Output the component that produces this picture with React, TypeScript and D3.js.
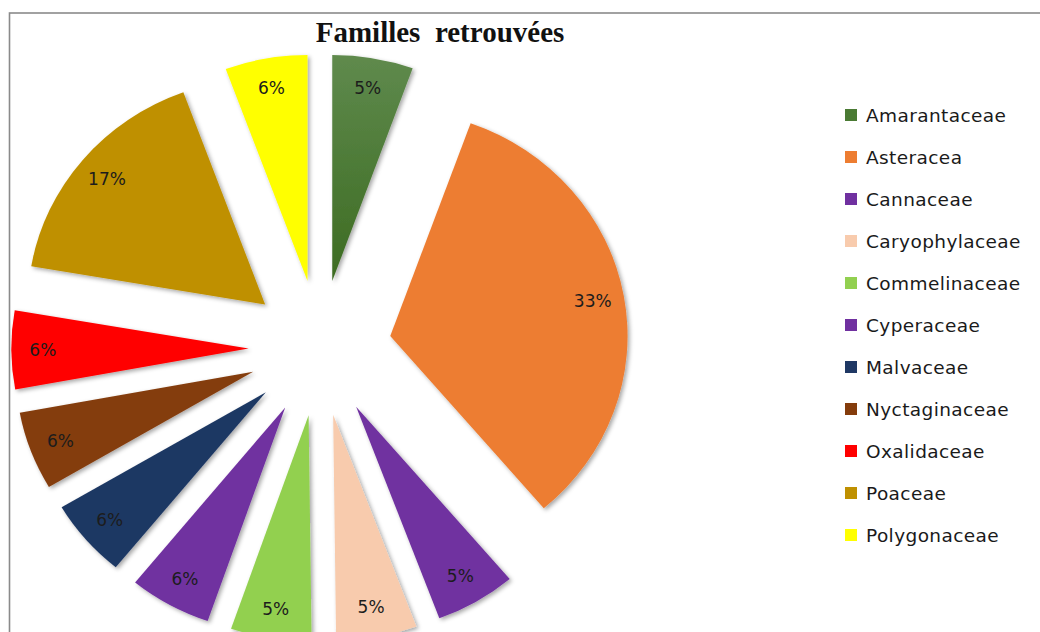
import React from "react";
import * as d3 from "d3";

const families = [
  "Amarantaceae",
  "Asteracea",
  "Cannaceae",
  "Caryophylaceae",
  "Commelinaceae",
  "Cyperaceae",
  "Malvaceae",
  "Nyctaginaceae",
  "Oxalidaceae",
  "Poaceae",
  "Polygonaceae",
];
const shares = [5.5, 33.3, 5.5, 5.5, 5.5, 5.6, 5.6, 5.6, 5.6, 16.7, 5.6];
const labels = ["5%", "33%", "5%", "5%", "5%", "6%", "6%", "6%", "6%", "17%", "6%"];
const colors = [
  "url(#gradAmar)",
  "#ed7d31",
  "#7030a0",
  "#f8cbad",
  "#92d050",
  "#7030a0",
  "#1f3864",
  "#843c0c",
  "#ff0000",
  "#bf9000",
  "#ffff00",
];
const legendColors = [
  "#4a7a33",
  "#ed7d31",
  "#7030a0",
  "#f8cbad",
  "#92d050",
  "#7030a0",
  "#1f3864",
  "#843c0c",
  "#ff0000",
  "#bf9000",
  "#ffff00",
];

const W = 1040;
const H = 632;
const cx = 320;
const cy = 348;
const R = 226;
const explode = 68;
const sx = 1.05;
const labelR = 196;

export default function App() {
  const pie = d3
    .pie<number>()
    .sort(null)
    .value((d) => d);
  const arcs = pie(shares);
  const arcGen = d3.arc<d3.PieArcDatum<number>>().innerRadius(0).outerRadius(R);

  const legendY = d3
    .scalePoint<string>()
    .domain(families)
    .range([115, 535]);

  return (
    <svg
      width={W}
      height={H}
      style={{ position: "absolute", left: 0, top: 0, background: "#fff" }}
    >
      <defs>
        <linearGradient id="gradAmar" x1="0" y1="1" x2="0" y2="0">
          <stop offset="0" stopColor="#3c6b21" />
          <stop offset="1" stopColor="#5f8a4d" />
        </linearGradient>
        <filter id="shadow" x="-20%" y="-20%" width="140%" height="140%">
          <feDropShadow dx="2" dy="2" stdDeviation="2" floodColor="#000" floodOpacity="0.35" />
        </filter>
      </defs>
      <rect x={9.5} y={13} width={1100} height={700} fill="#fff" stroke="#8a8a8a" strokeWidth={1.6} />
      <text
        x={440}
        y={42}
        textAnchor="middle"
        fontFamily="'Liberation Serif', 'Times New Roman', serif"
        fontWeight="bold"
        fontSize={29}
        fill="#111"
        style={{ whiteSpace: "pre" }}
      >
        {"Familles  retrouvées"}
      </text>
      <g>
        {arcs.map((a, i) => {
          const mid = (a.startAngle + a.endAngle) / 2;
          const ox = explode * Math.sin(mid) * sx;
          const oy = -explode * Math.cos(mid);
          return (
            <g key={families[i]} transform={`translate(${cx + ox},${cy + oy})`}>
              <path
                d={arcGen(a) || ""}
                transform={`scale(${sx},1)`}
                fill={colors[i]}
                filter="url(#shadow)"
              />
            </g>
          );
        })}
        {arcs.map((a, i) => {
          const mid = (a.startAngle + a.endAngle) / 2;
          const ox = explode * Math.sin(mid) * sx;
          const oy = -explode * Math.cos(mid);
          const lx = cx + ox + labelR * Math.sin(mid) * sx;
          const ly = cy + oy - labelR * Math.cos(mid);
          return (
            <text
              key={"l" + families[i]}
              x={lx}
              y={ly}
              textAnchor="middle"
              dominantBaseline="central"
              fontFamily="'DejaVu Sans', Verdana, sans-serif"
              fontSize={17}
              fill="#1c1c1c"
            >
              {labels[i]}
            </text>
          );
        })}
      </g>
      <g>
        {families.map((f, i) => (
          <g key={"lg" + f} transform={`translate(0,${legendY(f)})`}>
            <rect x={845} y={-6} width={12} height={12} fill={legendColors[i]} />
            <text
              x={866}
              y={0}
              dominantBaseline="central"
              fontFamily="'DejaVu Sans', Verdana, sans-serif"
              fontSize={18.5}
              letterSpacing={0.4}
              fill="#1a1a1a"
            >
              {f}
            </text>
          </g>
        ))}
      </g>
    </svg>
  );
}
